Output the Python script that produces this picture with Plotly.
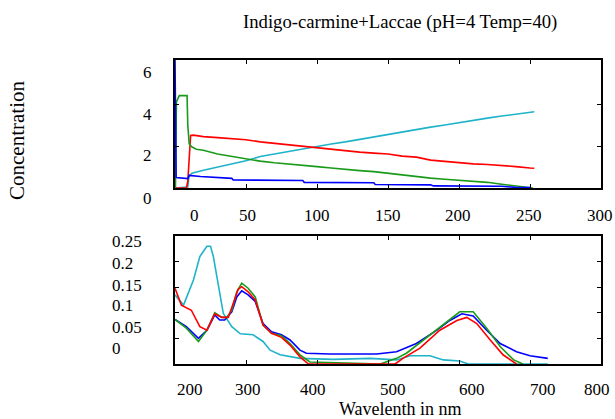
import plotly.graph_objects as go

# ---------------- data: top panel (concentration vs time) ----------------
blue_t = [0, 0.8, 9, 10, 18, 40, 41, 90, 91, 140, 141, 180, 182, 230, 240, 250]
blue_c = [6.1, 0.5, 0.45, 0.6, 0.55, 0.46, 0.38, 0.36, 0.27, 0.25, 0.17, 0.15, 0.1, 0.08, 0.03, 0.02]

green_t = [0, 0.3, 1, 3, 8.5, 9, 10, 12, 15, 20, 30, 40, 50, 60, 70, 80, 90, 100, 110, 120,
           130, 140, 150, 160, 170, 180, 190, 200, 210, 220, 230, 240, 250, 252]
green_c = [0, 0, 4.1, 4.4, 4.4, 3.0, 2.1, 1.95, 1.85, 1.8, 1.62, 1.5, 1.38, 1.28, 1.2, 1.15, 1.07,
           1.02, 0.95, 0.88, 0.83, 0.78, 0.7, 0.62, 0.55, 0.47, 0.42, 0.37, 0.32, 0.27, 0.18, 0.1,
           0.02, 0]

red_t = [0, 8, 9, 11, 13, 20, 30, 40, 50, 60, 70, 80, 90, 100, 110, 120, 130, 140, 150, 160,
         170, 180, 190, 200, 210, 220, 230, 240, 250, 253]
red_c = [0, 0, 0.3, 2.5, 2.52, 2.45, 2.4, 2.35, 2.3, 2.2, 2.13, 2.05, 1.98, 1.9, 1.84, 1.77,
         1.71, 1.66, 1.62, 1.52, 1.47, 1.33, 1.27, 1.2, 1.15, 1.12, 1.08, 1.02, 0.95, 0.94]

cyan_t = [0, 9, 10, 12, 20, 30, 40, 50, 60, 70, 80, 90, 100, 110, 120, 130, 140, 150, 160, 170,
          180, 190, 200, 210, 220, 230, 240, 250, 253]
cyan_c = [0, 0.05, 0.6, 0.7, 0.85, 1.0, 1.17, 1.3, 1.5, 1.62, 1.75, 1.88, 2.0, 2.1, 2.2, 2.32,
          2.45, 2.56, 2.68, 2.8, 2.9, 3.0, 3.12, 3.22, 3.33, 3.43, 3.53, 3.62, 3.63]

# ---------------- data: bottom panel (spectra vs wavelength) ----------------
cyan_w = [200, 212, 226, 235, 245, 250, 254, 261, 268, 280, 292, 310, 324, 334, 348, 376, 423,
          475, 512, 531, 545, 559, 578, 601, 613, 725]
cyan_a = [0.135, 0.115, 0.164, 0.21, 0.23, 0.23, 0.21, 0.151, 0.099, 0.073, 0.059, 0.057, 0.044,
          0.027, 0.018, 0.011, 0.009, 0.011, 0.008, 0.016, 0.016, 0.016, 0.008, 0.006, 0.0, 0.0]

blue_w = [200, 216, 233, 245, 256, 263, 270, 280, 287, 294, 303, 313, 324, 336, 350, 362, 376,
          385, 418, 484, 512, 540, 569, 587, 604, 620, 639, 658, 681, 700, 725]
blue_a = [0.087, 0.073, 0.05, 0.066, 0.096, 0.086, 0.086, 0.102, 0.131, 0.143, 0.135, 0.122,
          0.079, 0.063, 0.057, 0.047, 0.027, 0.021, 0.0195, 0.0195, 0.024, 0.04, 0.066, 0.085,
          0.098, 0.094, 0.066, 0.04, 0.024, 0.016, 0.011]

green_w = [200, 216, 233, 245, 256, 266, 273, 280, 287, 294, 303, 313, 324, 336, 350, 362, 376,
           390, 489, 512, 526, 559, 587, 601, 620, 639, 658, 677, 690]
green_a = [0.087, 0.07, 0.044, 0.066, 0.1, 0.091, 0.091, 0.105, 0.141, 0.158, 0.148, 0.131, 0.076,
           0.06, 0.055, 0.04, 0.018, 0.004, 0.0, 0.011, 0.021, 0.057, 0.087, 0.102, 0.102, 0.07,
           0.034, 0.008, 0.0]

red_w = [200, 209, 223, 235, 245, 256, 266, 275, 282, 289, 294, 303, 313, 324, 336, 350, 362,
         376, 388, 510, 521, 545, 573, 597, 611, 625, 644, 662, 681]
red_a = [0.148, 0.115, 0.105, 0.073, 0.066, 0.098, 0.091, 0.091, 0.118, 0.146, 0.151, 0.141,
         0.125, 0.076, 0.06, 0.052, 0.037, 0.014, 0.0, 0.0, 0.011, 0.031, 0.066, 0.085, 0.091,
         0.079, 0.047, 0.018, 0.0]

# ---------------- tick labels ----------------
top_x_labels = ["0", "50", "100", "150", "200", "250", "300"]
top_y_labels = ["6", "4", "2", "0"]
bot_x_labels = ["200", "300", "400", "500", "600", "700", "800"]
bot_y_labels = ["0.25", "0.2", "0.15", "0.1", "0.05", "0"]

TITLE = "Indigo-carmine+Laccae (pH=4 Temp=40)"
YLABEL = "Concentration"
XLABEL = "Wavelenth in nm"

# ---------------- layout constants (label placement in pixels, styling) ----------------
W, H = 615, 419
FONT = "Liberation Serif"
C_BLUE, C_GREEN, C_RED, C_CYAN = "#0000ff", "#1a9a1a", "#ff0000", "#1fb3c9"

top_x_label_px = [194, 247, 317, 388, 458, 529, 600]
top_y_label_py = [72, 114, 156, 198]
bot_x_label_px = [190, 248, 313, 393, 472, 543, 597]
bot_y_label_py = [241, 263, 285, 305, 327, 348]

fig = go.Figure()

def add(x, y, color, xa, ya):
    fig.add_trace(go.Scatter(x=x, y=y, mode="lines", line=dict(color=color, width=1.6),
                             xaxis=xa, yaxis=ya, showlegend=False, hoverinfo="skip"))

add(cyan_t, cyan_c, C_CYAN, "x", "y")
add(red_t, red_c, C_RED, "x", "y")
add(green_t, green_c, C_GREEN, "x", "y")
add(blue_t, blue_c, C_BLUE, "x", "y")

add(cyan_w, cyan_a, C_CYAN, "x2", "y2")
add(blue_w, blue_a, C_BLUE, "x2", "y2")
add(green_w, green_a, C_GREEN, "x2", "y2")
add(red_w, red_a, C_RED, "x2", "y2")

axis_common = dict(showline=True, linecolor="black", linewidth=1.6, mirror="ticks",
                   ticks="inside", ticklen=4, tickwidth=1.2, tickcolor="black",
                   showgrid=False, zeroline=False, showticklabels=False, fixedrange=True)

xd = [175 / W, 601 / W]
fig.update_layout(
    width=W, height=H,
    margin=dict(l=0, r=0, t=0, b=0),
    paper_bgcolor="white", plot_bgcolor="white",
    font=dict(family=FONT, color="black"),
    xaxis=dict(domain=xd, range=[0, 300], tickmode="array", tickvals=[50, 100, 150, 200, 250],
               anchor="y", **axis_common),
    yaxis=dict(domain=[(H - 188) / H, (H - 60) / H], range=[0, 6.1], tickmode="array",
               tickvals=[2, 4], anchor="x", **axis_common),
    xaxis2=dict(domain=xd, range=[200, 800], tickmode="array",
                tickvals=[300, 400, 500, 600, 700], anchor="y2", **axis_common),
    yaxis2=dict(domain=[(H - 364) / H, (H - 236) / H], range=[0, 0.25], tickmode="array",
                tickvals=[0.05, 0.1, 0.15, 0.2], anchor="x2", **axis_common),
)

def px_x(p):
    return p / W

def px_y(p):
    return (H - p) / H

ann = []
lab_font = dict(family=FONT, size=17, color="black")
for txt, p in zip(top_x_labels, top_x_label_px):
    ann.append(dict(text=txt, x=px_x(p), xref="paper", y=px_y(215), yref="paper",
                    xanchor="center", yanchor="middle", showarrow=False, font=lab_font))
for txt, p in zip(top_y_labels, top_y_label_py):
    ann.append(dict(text=txt, x=px_x(147), xref="paper", y=px_y(p), yref="paper",
                    xanchor="center", yanchor="middle", showarrow=False, font=lab_font))
for txt, p in zip(bot_x_labels, bot_x_label_px):
    ann.append(dict(text=txt, x=px_x(p), xref="paper", y=px_y(389), yref="paper",
                    xanchor="center", yanchor="middle", showarrow=False, font=lab_font))
for txt, p in zip(bot_y_labels, bot_y_label_py):
    ann.append(dict(text=txt, x=px_x(110), xref="paper", y=px_y(p), yref="paper",
                    xanchor="left", yanchor="middle", showarrow=False, font=lab_font))

ann.append(dict(text=TITLE, x=px_x(400), xref="paper", y=px_y(22), yref="paper",
                xanchor="center", yanchor="middle", showarrow=False,
                font=dict(family=FONT, size=18.7, color="black")))
ann.append(dict(text=YLABEL, x=px_x(17), xref="paper", y=px_y(141), yref="paper",
                xanchor="center", yanchor="middle", showarrow=False, textangle=-90,
                font=dict(family=FONT, size=21, color="black")))
ann.append(dict(text=XLABEL, x=px_x(401), xref="paper", y=px_y(409), yref="paper",
                xanchor="center", yanchor="middle", showarrow=False,
                font=dict(family=FONT, size=18, color="black")))
fig.update_layout(annotations=ann)

fig.write_html("out.html", config={"displayModeBar": False},
               post_script="document.body.style.margin='0';document.body.style.overflow='hidden';")
